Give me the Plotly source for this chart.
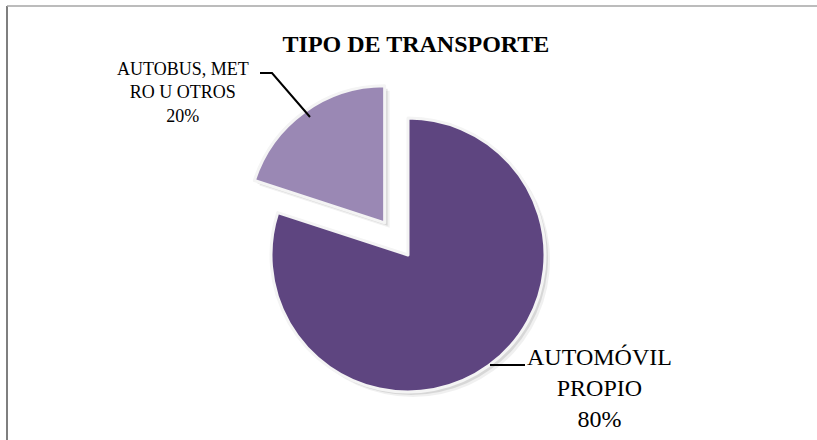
import plotly.graph_objects as go

# tipo de transporte (porcentaje)
labels = ['AUTOMÓVIL PROPIO', 'AUTOBUS, METRO U OTROS']
label_lines = ['AUTOMÓVIL<br>PROPIO', 'AUTOBUS, MET<br>RO U OTROS']
values = [80, 20]
colors = ['#5e4580', '#9a88b4']
pulls = [0, 0.29]

W, H = 817, 440
FONT = 'Liberation Serif, Times New Roman, serif'

# pie geometry in pixels
cx, cy, r = 408, 255, 137
half = r * (1 + max(pulls))


def dom(x, y):
    return dict(x=[(x - half) / W, (x + half) / W],
                y=[1 - (y + half) / H, 1 - (y - half) / H])


def pt(x, y):
    return x / W, 1 - y / H


fig = go.Figure()

# soft shadow behind the slices
for off, alpha in [(5, 0.06), (3, 0.10)]:
    fig.add_trace(go.Pie(
        labels=labels, values=values, pull=pulls, sort=False,
        direction='clockwise', rotation=0, textinfo='none',
        hoverinfo='skip', showlegend=False,
        marker=dict(colors=[f'rgba(0,0,0,{alpha})'] * len(values),
                    line=dict(width=0)),
        domain=dom(cx + off, cy + off),
    ))

fig.add_trace(go.Pie(
    labels=labels, values=values, pull=pulls, sort=False,
    direction='clockwise', rotation=0, textinfo='none',
    showlegend=False,
    marker=dict(colors=colors, line=dict(color='#f4f4f4', width=3)),
    domain=dom(cx, cy),
))

# label positions (px) and sizes
label_pos = [(599, 388, 24), (183, 92, 18)]
for txt, v, (lx, ly, fs) in zip(label_lines, values, label_pos):
    ax_, ay_ = pt(lx, ly)
    fig.add_annotation(
        x=ax_, y=ay_, xref='paper', yref='paper',
        text=f'{txt}<br>{v}%', showarrow=False,
        xanchor='center', yanchor='middle', align='center',
        font=dict(family=FONT, size=fs, color='#000000'),
    )

# leader lines
leaders = [[(490, 365), (525, 365)],
           [(260, 73), (272, 73), (310, 117)]]
for seg in leaders:
    path = ''
    for i, (x, y) in enumerate(seg):
        px_, py_ = pt(x, y)
        path += ('M ' if i == 0 else ' L ') + f'{px_},{py_}'
    fig.add_shape(type='path', path=path, xref='paper', yref='paper',
                  line=dict(color='#000000', width=2))

# chart frame
fig.add_shape(type='line', xref='paper', yref='paper',
              x0=pt(7, 0)[0], x1=pt(7, 0)[0], y0=pt(0, 6)[1], y1=-0.1,
              line=dict(color='#7f7f7f', width=2))
fig.add_shape(type='line', xref='paper', yref='paper',
              x0=pt(7, 0)[0], x1=1.1, y0=pt(0, 6)[1], y1=pt(0, 6)[1],
              line=dict(color='#a6a6a6', width=1.5))

fig.update_layout(
    width=W, height=H,
    margin=dict(l=0, r=0, t=0, b=0),
    paper_bgcolor='white', plot_bgcolor='white',
    title=dict(text='<b>TIPO DE TRANSPORTE</b>', x=416 / W, y=1 - 44 / H,
               xanchor='center', yanchor='middle',
               font=dict(family=FONT, size=24, color='#000000')),
)

fig.write_html('out.html', config={'displayModeBar': False},
               post_script="document.body.style.margin='0';")
